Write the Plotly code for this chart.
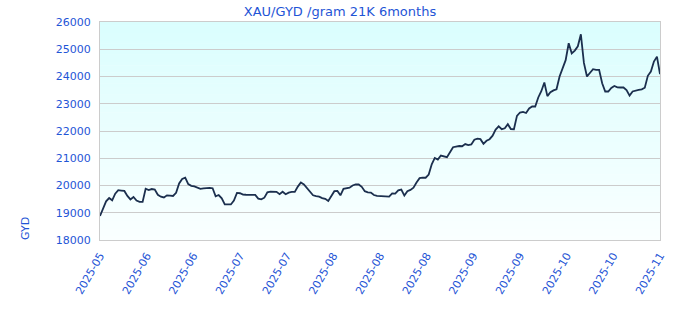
import pandas as pd
import plotly.graph_objects as go

# ---- data ----
start_date = "2025-05-05"
values = [
    18880, 19120, 19420, 19540, 19457, 19700, 19827, 19815, 19800, 19617,
    19490, 19580, 19450, 19400, 19400, 19880, 19830, 19870, 19850, 19660,
    19590, 19560, 19640, 19630, 19617, 19730, 20074, 20240, 20290, 20050,
    19990, 19970, 19930, 19880, 19895, 19910, 19914, 19900, 19600, 19650,
    19530, 19305, 19296, 19305, 19450, 19728, 19716, 19665, 19660, 19653,
    19653, 19653, 19516, 19490, 19553, 19750, 19777, 19777, 19765, 19680,
    19770, 19680, 19740, 19765, 19765, 19960, 20110, 20040, 19900, 19740,
    19640, 19610, 19590, 19540, 19510, 19430, 19600, 19790, 19800, 19640,
    19880, 19900, 19920, 20000, 20037, 20037, 19950, 19790, 19750, 19740,
    19650, 19616, 19616, 19616, 19600, 19590, 19710, 19700, 19820, 19850,
    19630, 19790, 19840, 19920, 20110, 20270, 20285, 20285, 20400, 20780,
    21010, 20950, 21100, 21060, 21040, 21220, 21405, 21430, 21450, 21440,
    21520, 21480, 21505, 21680, 21720, 21700, 21530, 21640, 21700, 21830,
    22050, 22170, 22066, 22100, 22250, 22070, 22066, 22555, 22678, 22700,
    22660, 22825, 22900, 22900, 23230, 23460, 23780, 23280, 23420, 23490,
    23530, 24000, 24270, 24600, 25220, 24850, 24950, 25110, 25549, 24500,
    24000, 24150, 24268, 24244, 24244, 23750, 23450, 23450, 23580, 23650,
    23600, 23597, 23597, 23500, 23300, 23451, 23490, 23510, 23530, 23590,
    24024, 24180, 24550, 24730, 24085,
]
dates = pd.date_range(start_date, periods=len(values), freq="D")

tick_labels = ["2025-05", "2025-06", "2025-06", "2025-07", "2025-07", "2025-08",
               "2025-08", "2025-08", "2025-09", "2025-09", "2025-10", "2025-10",
               "2025-11"]
y_ticks = [18000, 19000, 20000, 21000, 22000, 23000, 24000, 25000, 26000]

title_text = "XAU/GYD /gram 21K 6months"
y_title = "GYD"

# ---- styling ----
TEXT = "#1f55d6"
GRID = "#cccccc"
LINE = "#1b2f4e"
FONT = "DejaVu Sans"

tick_vals = pd.date_range(dates[0], dates[-1], periods=len(tick_labels))

fig = go.Figure()
fig.add_trace(go.Scatter(
    x=dates, y=values, mode="lines",
    line=dict(color=LINE, width=1.8),
    hoverinfo="skip", showlegend=False,
))

# vertical background gradient (light cyan at top -> near white at bottom)
n = 60
top = (218, 254, 254)
bot = (250, 255, 255)
shapes = []
for i in range(n):
    t = i / (n - 1)
    c = tuple(round(bot[k] + (top[k] - bot[k]) * t) for k in range(3))
    shapes.append(dict(
        type="rect", xref="paper", yref="paper",
        x0=0, x1=1, y0=i / n, y1=(i + 1) / n + 0.002,
        fillcolor=f"rgb{c}", line=dict(width=0), layer="below",
    ))

fig.update_layout(
    width=680, height=320,
    margin=dict(l=100, r=20, t=22, b=80),
    paper_bgcolor="white", plot_bgcolor="white",
    font=dict(family=FONT, size=11, color=TEXT),
    title=dict(text=title_text, x=0.5, xanchor="center", y=0.965, yanchor="middle",
               font=dict(family=FONT, size=13, color=TEXT)),
    shapes=shapes,
    showlegend=False,
)
fig.update_xaxes(
    range=[dates[0], dates[-1]],
    tickvals=tick_vals, ticktext=tick_labels, tickangle=-60,
    showgrid=False, zeroline=False,
    showline=True, linecolor=GRID, linewidth=1, mirror=True,
    ticks="outside", ticklen=4, tickcolor="rgba(0,0,0,0)",
    tickfont=dict(family=FONT, size=11, color=TEXT),
)
fig.update_yaxes(
    range=[18000, 26000], tickvals=y_ticks, tickformat="d",
    showgrid=True, gridcolor=GRID, gridwidth=1, zeroline=False,
    showline=True, linecolor=GRID, linewidth=1, mirror=True,
    ticks="outside", ticklen=6, tickcolor="rgba(0,0,0,0)",
    tickfont=dict(family=FONT, size=11, color=TEXT),
)
fig.add_annotation(
    text=y_title, xref="paper", yref="paper", x=-0.134, y=0.055,
    showarrow=False, textangle=-90, xanchor="center", yanchor="middle",
    font=dict(family=FONT, size=11, color=TEXT),
)

fig.write_html("out.html")
